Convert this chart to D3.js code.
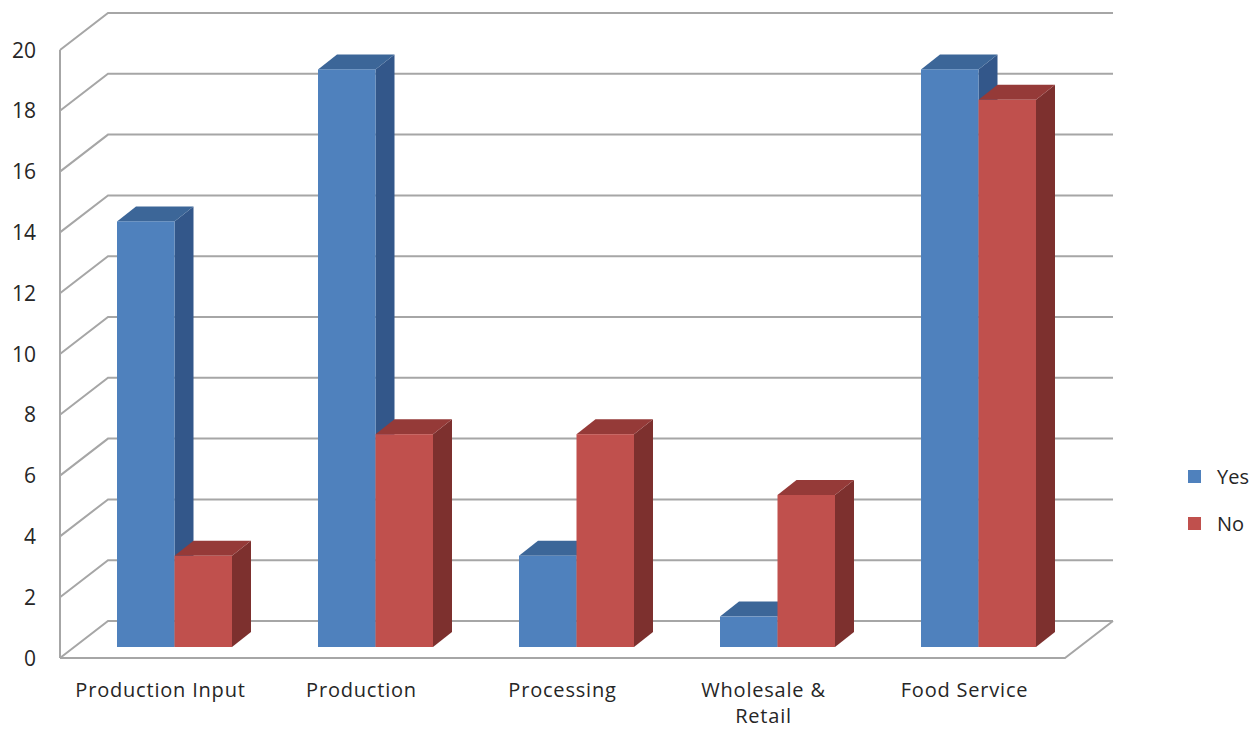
<!DOCTYPE html>
<html>
<head>
<meta charset="utf-8">
<script src="https://cdn.jsdelivr.net/npm/d3@7"></script>
<style>
  body { margin: 0; background: #fff; }
  text { font-family: "Open Sans", "DejaVu Sans", sans-serif; fill: #262626; }
</style>
</head>
<body>
<svg id="chart"></svg>
<script>
const categories = ['Production Input', 'Production', 'Processing', 'Wholesale & Retail', 'Food Service'];
const seriesNames = ['Yes', 'No'];
const yesValues = [14, 19, 3, 1, 19];
const noValues = [3, 7, 7, 5, 18];
const yTicks = [0, 2, 4, 6, 8, 10, 12, 14, 16, 18, 20];

const width = 1259, height = 729;
const svg = d3.select('#chart').attr('width', width).attr('height', height);

// front plane and wall depth
const plotLeft = 60, plotRight = 1065, plotBottom = 658, plotTop = 50;
const depthX = 48, depthY = -37;
// bars sit inside the depth
const barOffX = 14, barOffY = -11;
const barDX = 19, barDY = -15;

const x = d3.scaleBand().domain(categories).range([plotLeft, plotRight]);
const y = d3.scaleLinear().domain([0, 20]).range([plotBottom, plotTop]);
const groupW = 115;
const xs = d3.scaleBand().domain(seriesNames).range([0, groupW]);

const palette = {
  Yes: { front: '#4F81BD', top: '#3C6698', side: '#33578A' },
  No: { front: '#C0504D', top: '#953A38', side: '#7D302E' }
};

const gridColor = '#a6a6a6';

// gridlines: front-left diagonal + back horizontal
const grid = svg.append('g');
yTicks.forEach(t => {
  grid.append('path')
    .attr('d', `M${plotLeft},${y(t)} L${plotLeft + depthX},${y(t) + depthY} L${plotRight + depthX},${y(t) + depthY}`)
    .attr('fill', 'none').attr('stroke', gridColor).attr('stroke-width', 2);
});
// vertical axis line and floor
grid.append('line').attr('x1', plotLeft).attr('x2', plotLeft).attr('y1', y(20)).attr('y2', y(0))
  .attr('stroke', gridColor).attr('stroke-width', 2);
grid.append('path')
  .attr('d', `M${plotLeft},${y(0)} L${plotRight},${y(0)} L${plotRight + depthX},${y(0) + depthY}`)
  .attr('fill', 'none').attr('stroke', gridColor).attr('stroke-width', 2);

// y labels
svg.append('g').selectAll('text').data(yTicks).join('text')
  .attr('x', 36).attr('y', d => y(d)).attr('dy', '0.36em')
  .attr('text-anchor', 'end').style('font-size', '21px').text(d => d);

// bars
const data = [];
categories.forEach((c, i) => {
  data.push({ cat: c, s: 'Yes', v: yesValues[i] });
  data.push({ cat: c, s: 'No', v: noValues[i] });
});
const groupPad = (x.bandwidth() - groupW) / 2;
const bars = svg.append('g').selectAll('g').data(data).join('g');
bars.each(function (d) {
  const g = d3.select(this);
  const x0 = x(d.cat) + groupPad + xs(d.s) + barOffX;
  const x1 = x0 + xs.bandwidth();
  const yb = y(0) + barOffY;
  const yt = y(d.v) + barOffY;
  const col = palette[d.s];
  g.append('path')
    .attr('d', `M${x1},${yb} L${x1 + barDX},${yb + barDY} L${x1 + barDX},${yt + barDY} L${x1},${yt} Z`)
    .attr('fill', col.side);
  g.append('path')
    .attr('d', `M${x0},${yt} L${x0 + barDX},${yt + barDY} L${x1 + barDX},${yt + barDY} L${x1},${yt} Z`)
    .attr('fill', col.top);
  g.append('rect').attr('x', x0).attr('y', yt).attr('width', x1 - x0).attr('height', yb - yt)
    .attr('fill', col.front);
});

// category labels
const lines = { 'Wholesale & Retail': ['Wholesale &', 'Retail'] };
svg.append('g').selectAll('text').data(categories).join('text')
  .attr('x', d => x(d) + x.bandwidth() / 2).attr('y', 697)
  .attr('text-anchor', 'middle').style('font-size', '20px').style('letter-spacing', '0.8px')
  .each(function (d) {
    const parts = lines[d] || [d];
    d3.select(this).selectAll('tspan').data(parts).join('tspan')
      .attr('x', x(d) + x.bandwidth() / 2).attr('dy', (p, k) => k ? 26 : 0).text(p => p);
  });

// legend
const legend = svg.append('g').selectAll('g').data(seriesNames).join('g')
  .attr('transform', (d, i) => `translate(1188,${470 + i * 47})`);
legend.append('rect').attr('width', 13).attr('height', 13).attr('fill', d => palette[d].front);
legend.append('text').attr('x', 29).attr('y', 7).attr('dy', '0.36em').style('font-size', '20px').text(d => d);
</script>
</body>
</html>
